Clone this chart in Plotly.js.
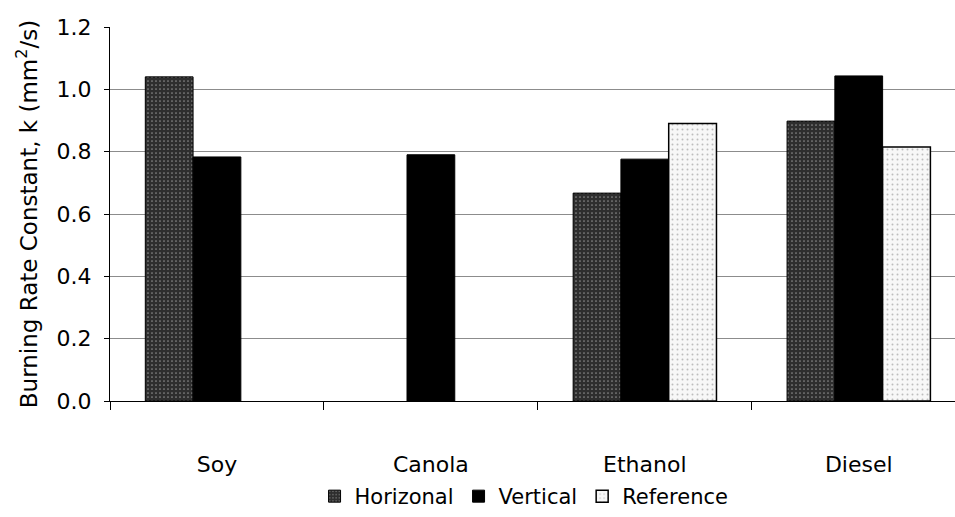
<!DOCTYPE html>
<html><head><meta charset="utf-8">
<script src="https://cdn.plot.ly/plotly-3.0.1.min.js"></script>
<style>body{margin:0;background:#fff}#c{width:955px;height:517px}</style>
</head><body><div id="c"></div>
<script>
const categories = ["Soy", "Canola", "Ethanol", "Diesel"];
const horizontal = [1.04, null, 0.667, 0.898];
const vertical = [0.783, 0.79, 0.776, 1.043];
const reference = [null, null, 0.89, 0.815];
const yTicks = [0, 0.2, 0.4, 0.6, 0.8, 1.0, 1.2];

const font = {family: "DejaVu Sans, Liberation Sans, Arial, sans-serif", color: "#000"};
const traces = [
  {type: "bar", name: "Horizonal", x: categories, y: horizontal,
   marker: {color: "#3c3c3c", line: {color: "#000", width: 1},
            pattern: {shape: ".", fgcolor: "#8a8a8a", bgcolor: "#2e2e2e", size: 4, solidity: 0.15}}},
  {type: "bar", name: "Vertical", x: categories, y: vertical,
   marker: {color: "#000", line: {color: "#000", width: 1}}},
  {type: "bar", name: "Reference", x: categories, y: reference,
   marker: {color: "#f4f4f4", line: {color: "#000", width: 1.5},
            pattern: {shape: ".", fgcolor: "#bdbdbd", bgcolor: "#f7f7f7", size: 5, solidity: 0.12}}}
];
const layout = {
  width: 955, height: 517,
  margin: {l: 110, r: 0, t: 27, b: 116},
  paper_bgcolor: "#fff", plot_bgcolor: "#fff",
  font: Object.assign({size: 22}, font),
  barmode: "group", bargap: 0.33, bargroupgap: 0,
  showlegend: true,
  legend: {orientation: "h", x: 0.49, xanchor: "center", y: -0.257, yanchor: "middle",
           font: Object.assign({size: 21}, font), itemwidth: 30, tracegroupgap: 0},
  xaxis: {range: [-0.5, 3.45], tickson: "boundaries", ticks: "outside", ticklen: 8,
          tickcolor: "#000", showline: true, linecolor: "#000", linewidth: 1,
          ticklabelstandoff: 44, tickfont: Object.assign({size: 22}, font), showgrid: false},
  yaxis: {range: [0, 1.2], tickvals: yTicks, ticktext: yTicks.map(v => v.toFixed(1)),
          ticks: "outside", ticklen: 5, tickcolor: "#000",
          showline: true, linecolor: "#000", linewidth: 1,
          gridcolor: "#8c8c8c", gridwidth: 1, zeroline: false,
          tickfont: Object.assign({size: 22}, font), ticklabelstandoff: 8,
          title: {text: "Burning Rate Constant, k (mm<sup>2</sup>/s)", font: Object.assign({size: 23}, font), standoff: 12}}
};
Plotly.newPlot("c", traces, layout, {displayModeBar: false, staticPlot: true});
</script></body></html>
